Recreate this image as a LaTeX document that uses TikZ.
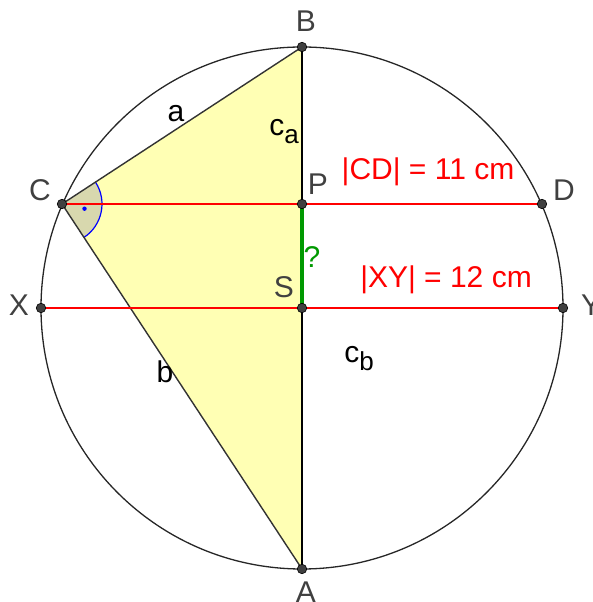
\documentclass[tikz,border=0pt]{standalone}
\usepackage{fontspec}
\setmainfont{Liberation Sans}
\usetikzlibrary{calc}
\definecolor{lbl}{HTML}{404040}
\definecolor{tri}{HTML}{FFFFB4}
\definecolor{sec}{HTML}{D8D8AE}
\definecolor{grn}{HTML}{009900}
\newcommand{\mysub}[1]{\raisebox{-8pt}{\fontsize{26}{26}\selectfont #1}}
\tikzset{
  pt/.style={circle,fill=lbl,draw=black,line width=0.6pt,inner sep=0pt,minimum size=9.5pt},
  lab/.style={text=lbl,font=\fontsize{30}{30}\selectfont,inner sep=0pt},
  redtxt/.style={text=red,font=\fontsize{30}{30}\selectfont,inner sep=0pt},
  redline/.style={red,line width=2pt},
  edge/.style={draw=black!80,line width=1.4pt}
}
\begin{document}
\begin{tikzpicture}[x=1pt,y=1pt]
\useasboundingbox (0,0) rectangle (593,602);
\coordinate (S) at (302,294);
\coordinate (B) at (302,555);
\coordinate (A) at (302,33);
\coordinate (C) at (62,398);
\coordinate (D) at (542,398);
\coordinate (P) at (302,398);
\coordinate (X) at (41,294);
\coordinate (Y) at (563,294);
% triangle fill
\fill[tri] (A) -- (B) -- (C) -- cycle;
% right angle sector
\fill[sec] (C) -- ++(-56.7:40) arc[start angle=-56.7,end angle=33.2,radius=40] -- cycle;
\draw[blue,line width=1.2pt] ($(C)+(-56.7:40)$) arc[start angle=-56.7,end angle=33.2,radius=40];
\fill[blue] ($(C)+(-11.8:23)$) circle (2.2pt);
% circle
\draw[black!85,line width=1.3pt] (S) circle (261);
% triangle edges
\draw[edge] (C) -- (B);
\draw[edge] (C) -- (A);
\draw[black,line width=1.8pt] (B) -- (A);
% chords
\draw[redline] (C) -- (D);
\draw[redline] (X) -- (Y);
% green segment
\draw[grn,line width=3.2pt] (P) -- (S);
% points
\foreach \p in {A,B,C,D,P,S,X,Y} \node[pt] (n\p) at (\p) {};
% labels
\node[lab] (lB) at (306,581) {B};
\node[lab] (lA) at (306,10) {A};
\node[lab] (lC) at (40,412) {C};
\node[lab] (lD) at (564,412) {D};
\node[lab] (lX) at (19,297) {X};
\node[lab] (lY) at (591,297) {Y};
\node[lab] (lP) at (318,418) {P};
\node[lab] (lS) at (284,315) {S};
\node[lab,text=black] (la) at (176,488) {a};
\node[lab,text=black] (lb) at (165,230) {b};
\node[lab,text=black] (lca) at (284,470) {c\mysub{a}};
\node[lab,text=black] (lcb) at (359,243) {c\mysub{b}};
\node[lab,text=grn] (lq) at (312,345) {?};
\node[redtxt] (tCD) at (428,430) {|CD| = 11 cm};
\node[redtxt] (tXY) at (446,322) {|XY| = 12 cm};
\end{tikzpicture}
\end{document}
